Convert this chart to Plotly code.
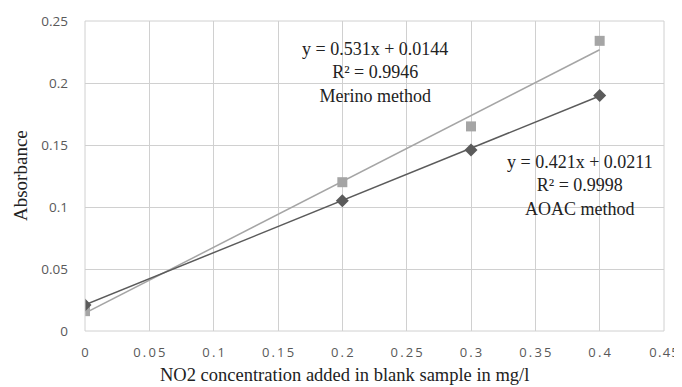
import numpy as np
import plotly.graph_objects as go

# Data
conc = [0, 0.2, 0.3, 0.4]
aoac = [0.021, 0.105, 0.146, 0.19]
merino = [0.016, 0.12, 0.165, 0.234]

# Trendline coefficients (from chart labels)
aoac_slope, aoac_int = 0.421, 0.0211
merino_slope, merino_int = 0.531, 0.0144

x_ticks = [0, 0.05, 0.1, 0.15, 0.2, 0.25, 0.3, 0.35, 0.4, 0.45]
x_tick_text = ["0", "0.05", "0.1", "0.15", "0.2", "0.25", "0.3", "0.35", "0.4", "0.45"]
y_ticks = [0, 0.05, 0.1, 0.15, 0.2, 0.25]
y_tick_text = ["0", "0.05", "0.1", "0.15", "0.2", "0.25"]

dark = "#5b5b5b"
light = "#a5a5a5"

fig = go.Figure()
tx = np.array([conc[0], conc[-1]])
fig.add_trace(go.Scatter(x=tx, y=merino_slope * tx + merino_int, mode="lines",
                         line=dict(color=light, width=1.5), showlegend=False, hoverinfo="skip"))
fig.add_trace(go.Scatter(x=tx, y=aoac_slope * tx + aoac_int, mode="lines",
                         line=dict(color=dark, width=1.5), showlegend=False, hoverinfo="skip"))
fig.add_trace(go.Scatter(x=conc, y=merino, mode="markers", name="Merino method",
                         marker=dict(symbol="square", size=10, color=light), showlegend=False))
fig.add_trace(go.Scatter(x=conc, y=aoac, mode="markers", name="AOAC method",
                         marker=dict(symbol="diamond", size=10, color=dark), showlegend=False))

serif = "Liberation Serif, Times New Roman, serif"
sans = "Open Sans, DejaVu Sans, sans-serif"

# page body has an 8px margin, so the figure is sized to fit the window
OFF = 8
W, H = 682 - OFF, 387 - OFF
L, R, T, B = 85 - OFF, 18, 21 - OFF, 56
pw, ph = W - L - R, H - T - B

# the x tick labels are letter-spaced in the reference (last one tighter to fit the edge)
spaced_x = ["\u2009".join(t) for t in x_tick_text[:-1]] + ["\u200a".join(x_tick_text[-1])]

fig.update_layout(
    width=W, height=H,
    margin=dict(l=L, r=R, t=T, b=B, autoexpand=False),
    paper_bgcolor="white", plot_bgcolor="white",
    xaxis=dict(range=[0, 0.45], tickvals=x_ticks, ticktext=spaced_x, automargin=False,
               showgrid=True, gridcolor="#d0d0d0", gridwidth=1, zeroline=False,
               showline=False, ticks="", ticklabelstandoff=12,
               tickfont=dict(family=sans, size=13, color="#595959")),
    yaxis=dict(range=[0, 0.25], tickvals=y_ticks, ticktext=y_tick_text, automargin=False,
               showgrid=True, gridcolor="#d0d0d0", gridwidth=1, zeroline=False,
               showline=False, ticks="", ticklabelstandoff=16,
               tickfont=dict(family=sans, size=13.5, color="#595959")),
    shapes=[dict(type="rect", xref="paper", yref="paper", x0=0, y0=0, x1=1, y1=1,
                 line=dict(color="#d0d0d0", width=1))],
)

fig.add_annotation(text="y = 0.531x + 0.0144<br>R² = 0.9946<br>Merino method",
                   x=0.2255, y=0.2085, xref="x", yref="y", showarrow=False,
                   font=dict(family=serif, size=18, color="#222"), align="center")
fig.add_annotation(text="y = 0.421x + 0.0211<br>R² = 0.9998<br>AOAC method",
                   x=0.385, y=0.1175, xref="x", yref="y", showarrow=False,
                   font=dict(family=serif, size=18, color="#222"), align="center")
fig.add_annotation(text="NO2 concentration added in blank sample in mg/l",
                   x=(344 - OFF - L) / pw, y=(H - B - (375 - OFF)) / ph,
                   xref="paper", yref="paper",
                   xanchor="center", yanchor="middle", showarrow=False,
                   font=dict(family=serif, size=18.5, color="#222"))
fig.add_annotation(text="Absorbance", x=(20 - OFF - L) / pw, y=0.5, xref="paper", yref="paper",
                   textangle=-90, showarrow=False, xanchor="center", yanchor="middle",
                   font=dict(family=serif, size=19, color="#222"))
fig.write_html("out.html")
